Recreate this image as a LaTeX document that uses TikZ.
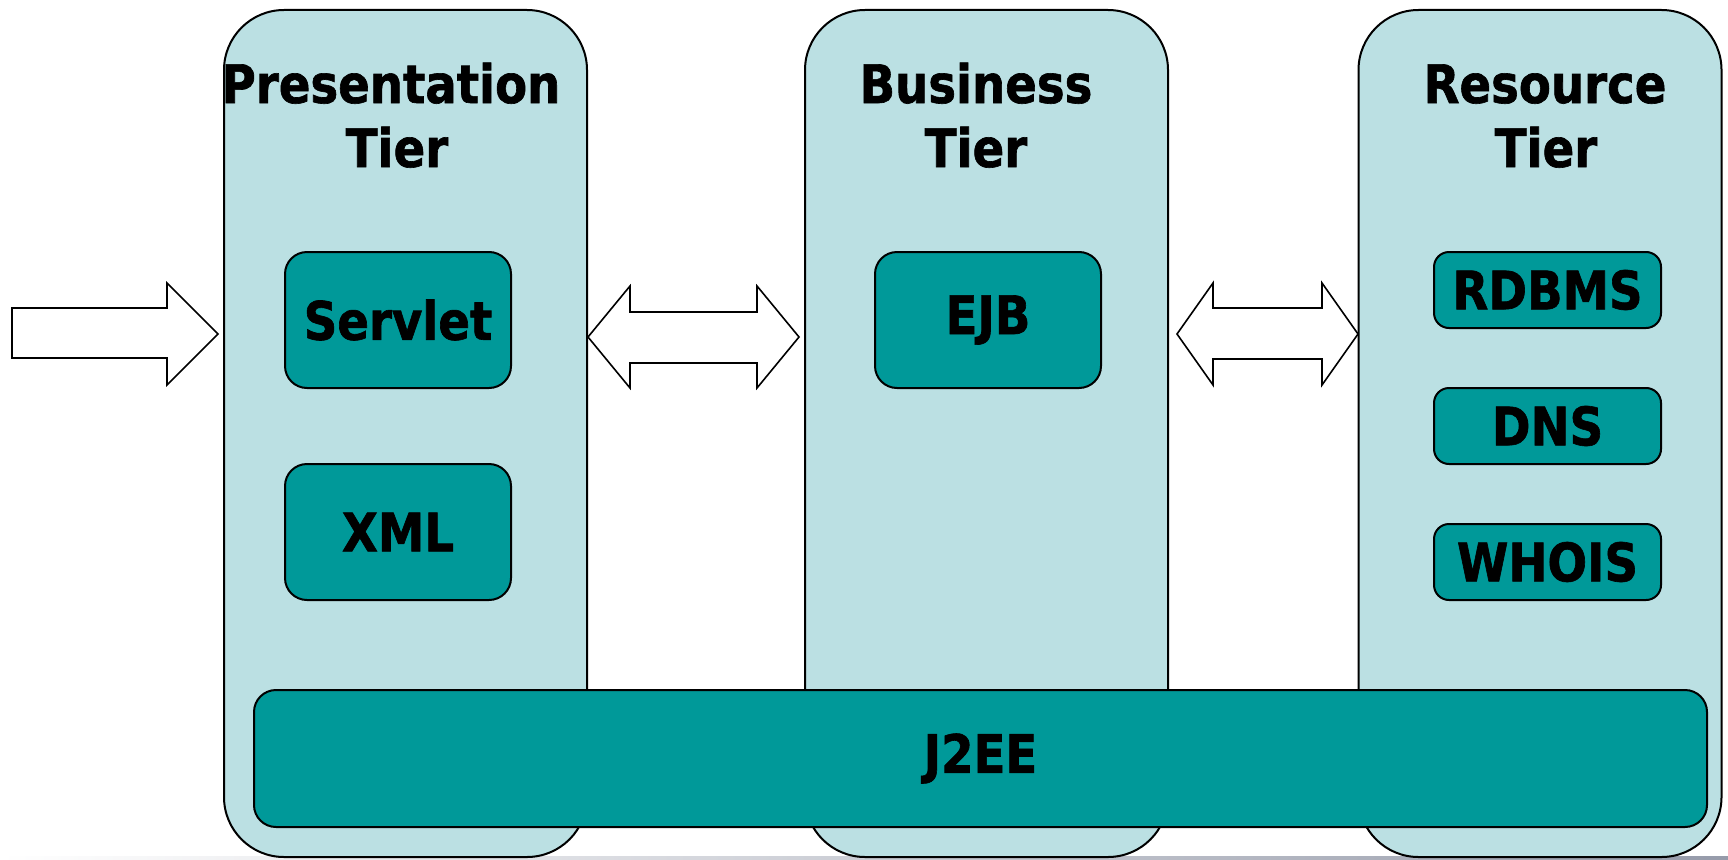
\documentclass[tikz,border=0pt]{standalone}
\usepackage{fontspec}
\setmainfont{DejaVu Sans}[FakeStretch=0.88, BoldFeatures={FakeBold=1.2}]
\definecolor{panelfill}{RGB}{187,224,227}
\definecolor{teal}{RGB}{0,153,153}
\definecolor{stripgray}{RGB}{150,155,170}
\begin{document}
\begin{tikzpicture}[x=1pt,y=-1pt,
  panel/.style={draw=black, line width=2pt, fill=panelfill, rounded corners=60pt, minimum width=363pt, minimum height=847pt, inner sep=0pt},
  tbox/.style={draw=black, line width=2pt, fill=teal, rounded corners=22pt, inner sep=0pt, font=\fontsize{53}{64}\selectfont\bfseries},
  sbox/.style={tbox, rounded corners=15pt, minimum width=227pt, minimum height=76pt},
  bbox/.style={tbox, minimum width=226pt, minimum height=136pt},
  title/.style={anchor=base, inner sep=0pt, font=\fontsize{53}{64}\selectfont\bfseries},
  blockarrow/.style={draw=black, line width=1.6pt, fill=white, line join=miter}
]
\useasboundingbox (0,0) rectangle (1728,859);
% bottom shadow strip
\shade[left color=white, right color=stripgray] (0,856) rectangle (1728,859);

% panels
\node[panel] (p1) at (405.5,433.5) {};
\node[panel] (p2) at (986.5,433.5) {};
\node[panel] (p3) at (1540,433.5) {};

% titles
\node[title] (t1a) at (391,103) {Presentation};
\node[title] (t1b) at (397,167) {Tier};
\node[title] (t2a) at (976,103) {Business};
\node[title] (t2b) at (976,167) {Tier};
\node[title] (t3a) at (1545,103) {Resource};
\node[title] (t3b) at (1546,167) {Tier};

% block arrows
\draw[blockarrow] (12,308) -- (167,308) -- (167,283) -- (218,334) -- (167,385) -- (167,358) -- (12,358) -- cycle;
\draw[blockarrow] (588,337) -- (630,286) -- (630,312) -- (757,312) -- (757,286) -- (799,337) -- (757,388) -- (757,363) -- (630,363) -- (630,388) -- cycle;
\draw[blockarrow] (1177,334) -- (1213,283) -- (1213,308) -- (1322,308) -- (1322,283) -- (1358,334) -- (1322,385) -- (1322,359) -- (1213,359) -- (1213,385) -- cycle;

% inner boxes
\node[bbox] (servlet) at (398,320) {Servlet};
\node[bbox] (xml) at (398,532) {XML};
\node[bbox] (ejb) at (988,320) {EJB};
\node[sbox] (rdbms) at (1547.5,290) {RDBMS};
\node[sbox] (dns) at (1547.5,426) {DNS};
\node[sbox] (whois) at (1547.5,562) {WHOIS};

% J2EE bar
\node[tbox, minimum width=1453pt, minimum height=137pt] (j2ee) at (980.5,758.5) {J2EE};
\end{tikzpicture}
\end{document}
